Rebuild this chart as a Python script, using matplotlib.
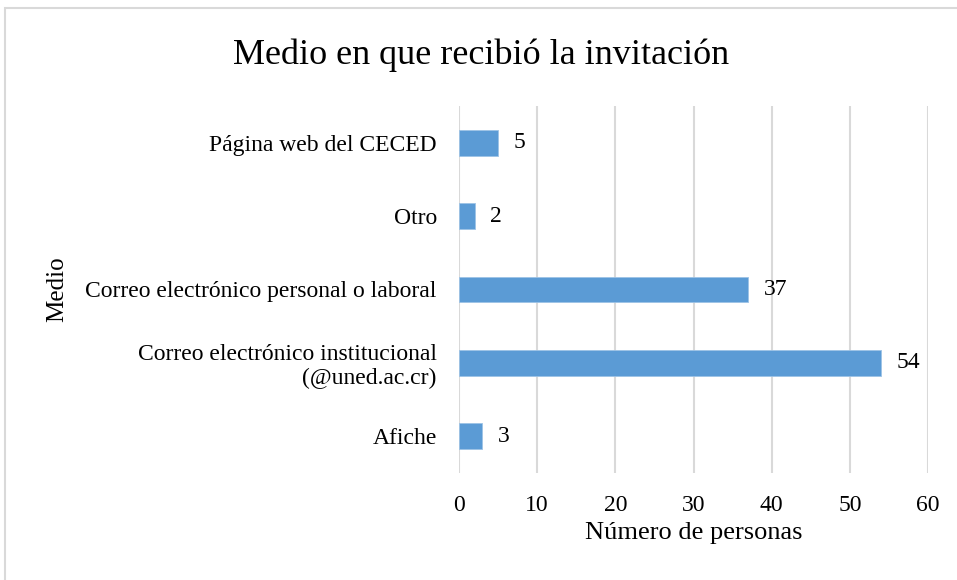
import matplotlib.pyplot as plt
from matplotlib.patches import Rectangle

### DATA ###

categorias = ["Afiche",
              "Correo electrónico institucional\n(@uned.ac.cr)",
              "Correo electrónico personal o laboral",
              "Otro",
              "Página web del CECED"]
valores = [3, 54, 37, 2, 5]
ticks_x = [0, 10, 20, 30, 40, 50, 60]

### PLOT ###

plt.rcParams['font.family'] = ['Liberation Serif', 'DejaVu Serif']

fig = plt.figure(figsize=(9.57, 5.8), dpi=100)
# light border round the chart area (runs off the right and bottom edges)
fig.patches.append(Rectangle((5 / 957, -0.1), 1.1, 1.1 - 8 / 580, transform=fig.transFigure,
                             fill=False, edgecolor='#D9D9D9', linewidth=1.5))

ax = fig.add_axes([459 / 957, 1 - 473 / 580, (928 - 459) / 957, (473 - 106) / 580])

y = range(len(categorias))
bars = ax.barh(y, valores, height=0.35, color='#5B9BD5', edgecolor='#9DC3E6', linewidth=0.6, zorder=3)

# value labels to the right of each bar
for rect, v in zip(bars, valores):
    ax.annotate(str(v), (rect.get_width(), rect.get_y() + rect.get_height() / 2),
                xytext=(11, 0), textcoords='offset points', ha='left', va='center', fontsize=17)

ax.set_xlim(0, 60)
ax.set_ylim(-0.5, len(categorias) - 0.5)
ax.set_xticks(ticks_x)
ax.set_yticks(list(y))
ax.set_yticklabels(categorias, fontsize=17, linespacing=1.15)
ax.tick_params(axis='x', labelsize=17, length=0, pad=16)
ax.tick_params(axis='y', length=0, pad=16)
ax.grid(axis='x', color='#D9D9D9', linewidth=1.5, zorder=0)
for s in ax.spines.values():
    s.set_visible(False)

ax.set_xlabel("Número de personas", fontsize=19, labelpad=4)
fig.text(57 / 957, 1 - 289 / 580, "Medio", rotation=90, fontsize=18, ha='center', va='center')
fig.text(481 / 957, 1 - 55 / 580, "Medio en que recibió la invitación", fontsize=26, ha='center', va='center')

plt.savefig("out.png", dpi=100)
